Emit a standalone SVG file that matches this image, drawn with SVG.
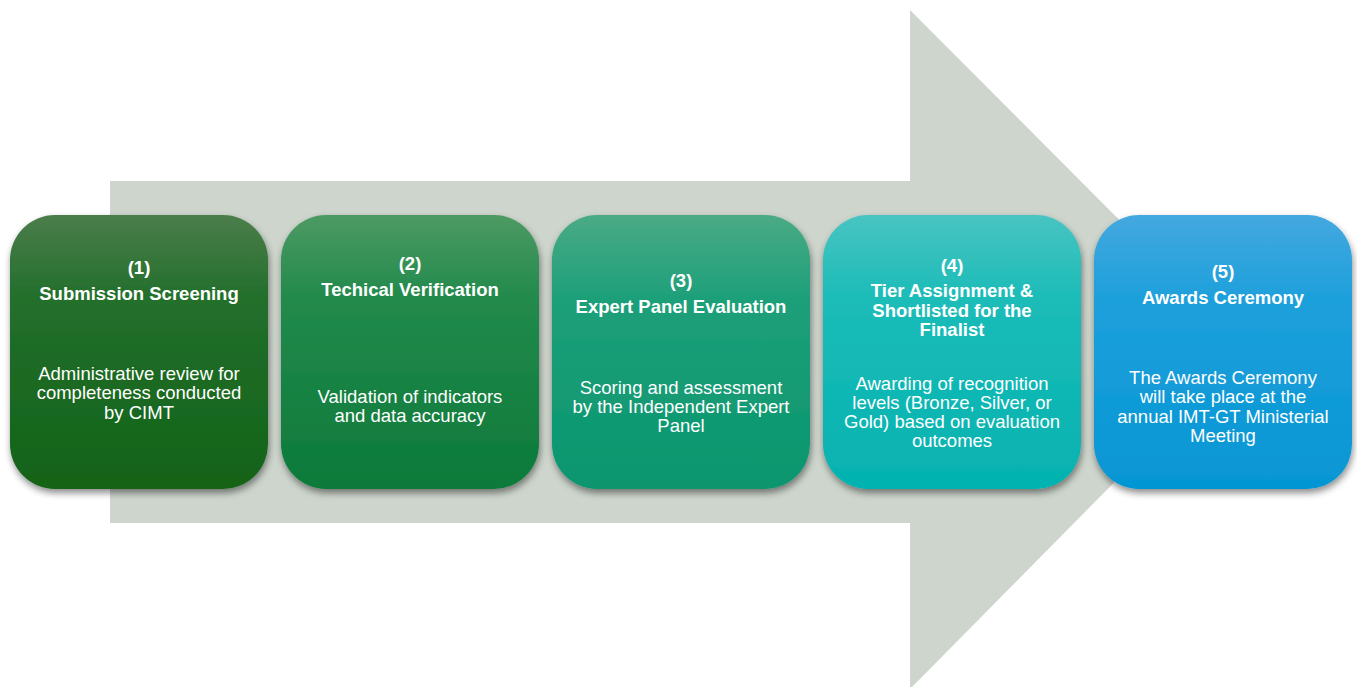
<svg xmlns="http://www.w3.org/2000/svg" width="1357" height="687" viewBox="0 0 1357 687">
<defs>
<filter id="sh" x="-10%" y="-10%" width="125%" height="130%">
<feDropShadow dx="1" dy="4" stdDeviation="3.5" flood-color="#000" flood-opacity="0.45"/>
</filter>
<linearGradient id="g1" x1="0" y1="0" x2="0" y2="1"><stop offset="0" stop-color="#4b7d4b"/><stop offset="0.3" stop-color="#236f2c"/><stop offset="1" stop-color="#126318"/></linearGradient>
<linearGradient id="g2" x1="0" y1="0" x2="0" y2="1"><stop offset="0" stop-color="#4d9a63"/><stop offset="0.3" stop-color="#228a4c"/><stop offset="1" stop-color="#0c7a3a"/></linearGradient>
<linearGradient id="g3" x1="0" y1="0" x2="0" y2="1"><stop offset="0" stop-color="#4aaa86"/><stop offset="0.3" stop-color="#1ea07a"/><stop offset="1" stop-color="#09966e"/></linearGradient>
<linearGradient id="g4" x1="0" y1="0" x2="0" y2="1"><stop offset="0" stop-color="#48c4c2"/><stop offset="0.3" stop-color="#1cbcb8"/><stop offset="1" stop-color="#04b2b0"/></linearGradient>
<linearGradient id="g5" x1="0" y1="0" x2="0" y2="1"><stop offset="0" stop-color="#44a8df"/><stop offset="0.3" stop-color="#1ea0dc"/><stop offset="1" stop-color="#0596d4"/></linearGradient>
</defs>
<style>
text{font-family:"Liberation Sans",Arial,sans-serif;fill:#fff;text-anchor:middle;dominant-baseline:central}
.t{font-weight:bold;font-size:18.5px}
.b{font-size:18.5px}
.box{filter:url(#sh)}
</style>
<rect width="1357" height="687" fill="#fff"/>
<g id="arrow">
<polygon points="110,181 910,181 910,10 1247,348 912,687 910,687 910,523 110,523" fill="#cdd5cc"/>
</g>
<g id="connectors"></g>
<g id="node1">
<rect class="box" x="10" y="215" width="258" height="274" rx="45" fill="url(#g1)"/>
<text class="t" x="139" y="267">(1)</text>
<text class="t" x="139" y="293">Submission Screening</text>
<text class="b" x="139" y="373">Administrative review for</text>
<text class="b" x="139" y="392">completeness conducted</text>
<text class="b" x="139" y="412">by CIMT</text>
</g>
<g id="node2">
<rect class="box" x="281" y="215" width="258" height="274" rx="45" fill="url(#g2)"/>
<text class="t" x="410" y="263">(2)</text>
<text class="t" x="410" y="289">Techical Verification</text>
<text class="b" x="410" y="396">Validation of indicators</text>
<text class="b" x="410" y="415">and data accuracy</text>
</g>
<g id="node3">
<rect class="box" x="552" y="215" width="258" height="274" rx="45" fill="url(#g3)"/>
<text class="t" x="681" y="280">(3)</text>
<text class="t" x="681" y="306">Expert Panel Evaluation</text>
<text class="b" x="681" y="387">Scoring and assessment</text>
<text class="b" x="681" y="406">by the Independent Expert</text>
<text class="b" x="681" y="425">Panel</text>
</g>
<g id="node4">
<rect class="box" x="823" y="215" width="258" height="274" rx="45" fill="url(#g4)"/>
<text class="t" x="952" y="265">(4)</text>
<text class="t" x="952" y="290">Tier Assignment &amp;</text>
<text class="t" x="952" y="310">Shortlisted for the</text>
<text class="t" x="952" y="329">Finalist</text>
<text class="b" x="952" y="383">Awarding of recognition</text>
<text class="b" x="952" y="402">levels (Bronze, Silver, or</text>
<text class="b" x="952" y="421">Gold) based on evaluation</text>
<text class="b" x="952" y="440">outcomes</text>
</g>
<g id="node5">
<rect class="box" x="1094" y="215" width="258" height="274" rx="45" fill="url(#g5)"/>
<text class="t" x="1223" y="271">(5)</text>
<text class="t" x="1223" y="297">Awards Ceremony</text>
<text class="b" x="1223" y="377">The Awards Ceremony</text>
<text class="b" x="1223" y="396">will take place at the</text>
<text class="b" x="1223" y="416">annual IMT-GT Ministerial</text>
<text class="b" x="1223" y="435">Meeting</text>
</g>
</svg>
